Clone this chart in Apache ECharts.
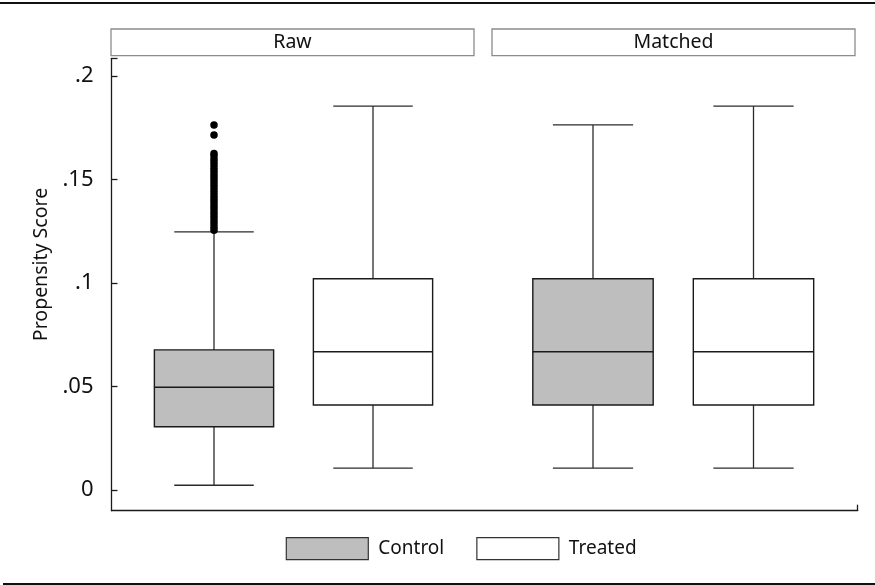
<!DOCTYPE html>
<html>
<head>
<meta charset="utf-8">
<script src="https://cdn.jsdelivr.net/npm/echarts@6/dist/echarts.min.js"></script>
<style>
  html, body { margin: 0; padding: 0; background: #fff; }
  #chart { width: 875px; height: 585px; }
</style>
</head>
<body>
<div id="chart"></div>
<script>
// panels and groups
const panelNames = ['Raw', 'Matched']
const groupNames = ['Control', 'Treated']

// box stats: [low whisker, q1, median, q3, high whisker]
const rawControl = [0.0023, 0.0306, 0.0496, 0.0677, 0.1247]
const rawTreated = [0.0106, 0.0411, 0.0668, 0.1021, 0.1855]
const matchedControl = [0.0106, 0.0411, 0.0668, 0.1021, 0.1764]
const matchedTreated = [0.0106, 0.0411, 0.0668, 0.1021, 0.1855]

// outside values of raw control group
const rawControlOutliers = [
  0.1255, 0.127, 0.1285, 0.13, 0.1315, 0.133, 0.1345, 0.136, 0.1375, 0.139,
  0.1405, 0.142, 0.1435, 0.145, 0.1465, 0.148, 0.1495, 0.151, 0.1525, 0.154,
  0.1555, 0.157, 0.1585, 0.16, 0.1615, 0.1626, 0.1715, 0.1764
]

// y axis
const yTickValues = [0, 0.05, 0.1, 0.15, 0.2]
const yTickLabels = ['0', '.05', '.1', '.15', '.2']
const yMin = -0.01
const yMax = 0.2086

const FONT = '"Noto Sans", sans-serif'
const GRAY = '#bebebe'
const INK = '#1a1a1a'

function renderBox(params, api) {
  const x = api.value(0)
  const low = api.coord([x, api.value(1)])
  const q1 = api.coord([x, api.value(2)])
  const med = api.coord([x, api.value(3)])
  const q3 = api.coord([x, api.value(4)])
  const high = api.coord([x, api.value(5)])
  const band = api.size([1, 0])[0]
  const hw = band * 0.375
  const cw = band * 0.25
  const cx = med[0]
  const fill = api.visual('color')
  const lineStyle = { stroke: '#2b2b2b', lineWidth: 1.3 }
  return {
    type: 'group',
    children: [
      { type: 'line', shape: { x1: cx, y1: q3[1], x2: cx, y2: high[1] }, style: lineStyle },
      { type: 'line', shape: { x1: cx, y1: q1[1], x2: cx, y2: low[1] }, style: lineStyle },
      { type: 'line', shape: { x1: cx - cw, y1: high[1], x2: cx + cw, y2: high[1] }, style: lineStyle },
      { type: 'line', shape: { x1: cx - cw, y1: low[1], x2: cx + cw, y2: low[1] }, style: lineStyle },
      {
        type: 'rect',
        shape: { x: cx - hw, y: q3[1], width: hw * 2, height: q1[1] - q3[1] },
        style: { fill, stroke: INK, lineWidth: 1.4 }
      },
      { type: 'line', shape: { x1: cx - hw, y1: med[1], x2: cx + hw, y2: med[1] }, style: { stroke: INK, lineWidth: 1.5 } }
    ]
  }
}

function boxSeries(name, idx, catIdx, stats, color) {
  return {
    name,
    type: 'custom',
    xAxisIndex: idx,
    yAxisIndex: idx,
    renderItem: renderBox,
    itemStyle: { color },
    encode: { x: 0, y: [1, 2, 3, 4, 5] },
    data: [[catIdx, ...stats]],
    silent: true
  }
}

const hiddenY = idx => ({
  type: 'value', gridIndex: idx, min: yMin, max: yMax,
  show: false, splitLine: { show: false }
})
const hiddenX = idx => ({
  type: 'category', gridIndex: idx, data: groupNames, show: false
})

const headers = [
  { left: 111, width: 363 },
  { left: 492, width: 363 }
]

const chart = echarts.init(document.getElementById('chart'), null, { renderer: 'canvas' })

chart.setOption({
  backgroundColor: '#fff',
  animation: false,
  textStyle: { fontFamily: FONT },
  grid: [
    { left: 111.5, right: 17.3, top: 58.3, bottom: 74.3 },
    { left: 134.5, width: 318, top: 58.3, bottom: 74.3 },
    { left: 512.75, width: 321, top: 58.3, bottom: 74.3 }
  ],
  xAxis: [
    {
      type: 'value', gridIndex: 0, min: 0, max: 1,
      axisLine: { show: true, onZero: false, lineStyle: { color: INK, width: 1.3 } },
      axisTick: { show: true, inside: true, length: 6, customValues: [1], lineStyle: { color: INK, width: 1.3 } },
      axisLabel: { show: false },
      splitLine: { show: false }
    },
    hiddenX(1),
    hiddenX(2)
  ],
  yAxis: [
    {
      type: 'value', gridIndex: 0, min: yMin, max: yMax,
      name: 'Propensity Score',
      nameLocation: 'middle',
      nameGap: 60,
      nameTextStyle: { fontFamily: FONT, fontSize: 19.5, color: '#111', padding: [0, 0, 0, 40] },
      axisLine: { show: true, onZero: false, lineStyle: { color: INK, width: 1.3 } },
      axisTick: {
        show: true, inside: true, length: 6,
        customValues: [...yTickValues, yMax],
        lineStyle: { color: INK, width: 1.3 }
      },
      axisLabel: {
        customValues: yTickValues,
        margin: 18,
        fontFamily: FONT,
        fontSize: 22,
        color: '#111',
        formatter: v => {
          let best = 0
          yTickValues.forEach((t, i) => { if (Math.abs(t - v) < Math.abs(yTickValues[best] - v)) best = i })
          return yTickLabels[best]
        }
      },
      splitLine: { show: false }
    },
    hiddenY(1),
    hiddenY(2)
  ],
  legend: {
    left: 280.7,
    top: 532,
    itemWidth: 82,
    itemHeight: 22,
    itemGap: 32,
    selectedMode: false,
    textStyle: { fontFamily: FONT, fontSize: 19, color: '#111', padding: [0, 0, 0, 5] },
    data: [
      { name: 'Control', icon: 'rect', itemStyle: { color: GRAY, borderColor: '#333', borderWidth: 1.2 } },
      { name: 'Treated', icon: 'rect', itemStyle: { color: '#fff', borderColor: '#333', borderWidth: 1.2 } }
    ]
  },
  graphic: [
    { type: 'line', silent: true, shape: { x1: 0, y1: 3, x2: 875, y2: 3 }, style: { stroke: '#111', lineWidth: 2 } },
    { type: 'line', silent: true, shape: { x1: 3, y1: 584, x2: 875, y2: 584 }, style: { stroke: '#111', lineWidth: 2 } },
    ...panelNames.map((name, i) => ({
      type: 'rect',
      silent: true,
      shape: { x: headers[i].left, y: 29, width: headers[i].width, height: 26.7 },
      style: { fill: '#fff', stroke: '#8c8c8c', lineWidth: 1.3 },
      textContent: { style: { text: name, fontFamily: FONT, fontSize: 19.5, fill: '#111' } },
      textConfig: { position: 'inside' }
    }))
  ],
  series: [
    boxSeries('Control', 1, 0, rawControl, GRAY),
    boxSeries('Treated', 1, 1, rawTreated, '#fff'),
    boxSeries('Control', 2, 0, matchedControl, GRAY),
    boxSeries('Treated', 2, 1, matchedTreated, '#fff'),
    {
      name: 'Outliers',
      type: 'scatter',
      xAxisIndex: 1,
      yAxisIndex: 1,
      symbol: 'circle',
      symbolSize: 7.5,
      itemStyle: { color: '#000', opacity: 1 },
      silent: true,
      data: rawControlOutliers.map(v => [0, v])
    }
  ]
})
</script>
</body>
</html>
